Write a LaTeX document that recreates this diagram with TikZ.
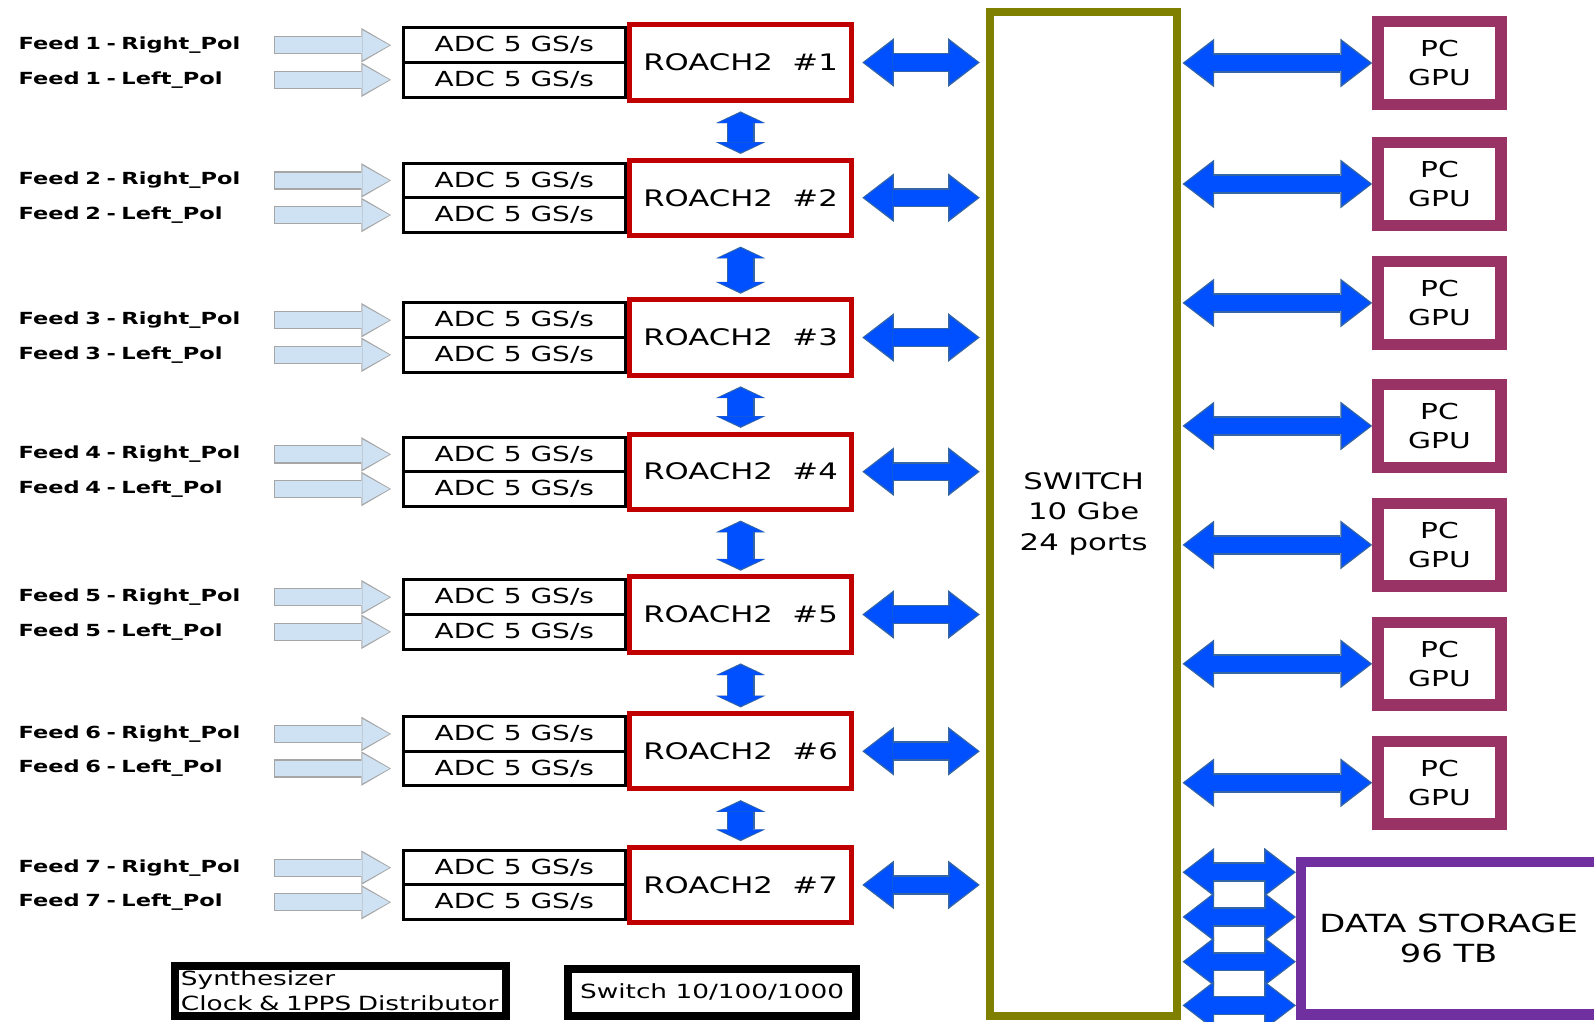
\documentclass[tikz,border=0pt]{standalone}
\usepackage{fontspec}
\setmainfont{DejaVu Sans}[FakeStretch=1.35]
\usepackage{xcolor}
\usepackage{tikz}
\usetikzlibrary{arrows.meta,positioning}
\definecolor{roachred}{HTML}{C00000}
\definecolor{switcholive}{HTML}{808000}
\definecolor{pcmauve}{HTML}{993366}
\definecolor{storepurple}{HTML}{7030A0}
\definecolor{linkblue}{HTML}{0050FF}
\definecolor{linkedge}{HTML}{3465A4}
\definecolor{feedfill}{HTML}{CFE2F3}
\definecolor{feededge}{HTML}{A6A6A6}
\tikzset{
  feedlab/.style   = {anchor=west, inner sep=0pt, text width=122pt, align=left,
                      font=\bfseries\fontsize{8.2}{10}\selectfont},
  adcbox/.style    = {draw, line width=1.5pt, minimum width=109.5pt, minimum height=17pt,
                      inner sep=0pt, font=\fontsize{10.2}{12}\selectfont},
  roachbox/.style  = {draw=roachred, line width=2.5pt, minimum width=109pt, minimum height=37pt,
                      inner sep=0pt, font=\fontsize{11.2}{13}\selectfont},
  switchbox/.style = {draw=switcholive, line width=4pt, minimum width=92pt, minimum height=493.5pt,
                      inner sep=0pt, align=center, font=\fontsize{11.2}{14.8}\selectfont},
  pcbox/.style     = {draw=pcmauve, line width=5.5pt, minimum width=60.5pt, minimum height=40.5pt,
                      inner sep=0pt, align=center, font=\fontsize{10.8}{14.5}\selectfont},
  storebox/.style  = {draw=storepurple, line width=5pt, minimum width=180pt, minimum height=75pt,
                      inner sep=0pt},
  storetext/.style = {align=center, inner sep=0pt, font=\fontsize{12.3}{15}\selectfont},
  auxbox/.style    = {draw, line width=4pt, inner sep=1pt, font=\fontsize{9.6}{12.5}\selectfont},
}
\tikzset{
  feedin/.style = {line width=7.8pt, feedfill, shorten <=4pt, shorten >=6pt,
                   -{Triangle[length=13.3pt,width=14.8pt,line width=0pt]},
                   preaction={draw=feededge, line width=9pt, shorten <=3.4pt, shorten >=5.2pt,
                              arrows=-{Triangle[length=14.6pt,width=17pt,line width=0pt]}}},
  link/.style 2 args = {line width=8pt, linkblue, shorten <=#1, shorten >=#2,
                   {Triangle[length=14pt,width=21pt,line width=0pt]}-{Triangle[length=14pt,width=21pt,line width=0pt]},
                   preaction={draw=linkedge, line width=9.6pt,
                              shorten <=#1-0.9pt, shorten >=#2-0.9pt,
                              arrows={Triangle[length=15.6pt,width=24pt,line width=0pt]}-{Triangle[length=15.6pt,width=24pt,line width=0pt]}}},
  vlink/.style  = {line width=12.5pt, linkblue, shorten <=5pt, shorten >=2.5pt,
                   {Triangle[length=5pt,width=22.5pt,line width=0pt]}-{Triangle[length=5pt,width=22.5pt,line width=0pt]},
                   preaction={draw=linkedge, line width=13.8pt, shorten <=4.3pt, shorten >=1.8pt,
                              arrows={Triangle[length=5.8pt,width=24.5pt,line width=0pt]}-{Triangle[length=5.8pt,width=24.5pt,line width=0pt]}}},
}

\begin{document}
\begin{tikzpicture}[x=0.5pt, y=-0.5pt]
\useasboundingbox (0,0) rectangle (1568,1005);
\clip (0,0) rectangle (1568,1005);

\node[switchbox] (sw) at (1066,505.5) {SWITCH\\10 Gbe\\24 ports};

% roach rows
\node[feedlab] (f1r) at (18,44.5) {Feed 1 - Right\_Pol};
\node[feedlab] (f1l) at (18,78.5) {Feed 1 - Left\_Pol};
\node[adcbox] (a1r) at (506,44.5) {ADC 5 GS/s};
\node[adcbox] (a1l) at (506,78.5) {ADC 5 GS/s};
\node[roachbox] (r1) at (728.5,61.5) {ROACH2\ \ \#1};

\node[feedlab] (f2r) at (18,177.5) {Feed 2 - Right\_Pol};
\node[feedlab] (f2l) at (18,211.5) {Feed 2 - Left\_Pol};
\node[adcbox] (a2r) at (506,177.5) {ADC 5 GS/s};
\node[adcbox] (a2l) at (506,211.5) {ADC 5 GS/s};
\node[roachbox] (r2) at (728.5,194.5) {ROACH2\ \ \#2};

\node[feedlab] (f3r) at (18,315) {Feed 3 - Right\_Pol};
\node[feedlab] (f3l) at (18,349) {Feed 3 - Left\_Pol};
\node[adcbox] (a3r) at (506,315) {ADC 5 GS/s};
\node[adcbox] (a3l) at (506,349) {ADC 5 GS/s};
\node[roachbox] (r3) at (728.5,332) {ROACH2\ \ \#3};

\node[feedlab] (f4r) at (18,447) {Feed 4 - Right\_Pol};
\node[feedlab] (f4l) at (18,481) {Feed 4 - Left\_Pol};
\node[adcbox] (a4r) at (506,447) {ADC 5 GS/s};
\node[adcbox] (a4l) at (506,481) {ADC 5 GS/s};
\node[roachbox] (r4) at (728.5,464) {ROACH2\ \ \#4};

\node[feedlab] (f5r) at (18,587.5) {Feed 5 - Right\_Pol};
\node[feedlab] (f5l) at (18,621.5) {Feed 5 - Left\_Pol};
\node[adcbox] (a5r) at (506,587.5) {ADC 5 GS/s};
\node[adcbox] (a5l) at (506,621.5) {ADC 5 GS/s};
\node[roachbox] (r5) at (728.5,604.5) {ROACH2\ \ \#5};

\node[feedlab] (f6r) at (18,722) {Feed 6 - Right\_Pol};
\node[feedlab] (f6l) at (18,756) {Feed 6 - Left\_Pol};
\node[adcbox] (a6r) at (506,722) {ADC 5 GS/s};
\node[adcbox] (a6l) at (506,756) {ADC 5 GS/s};
\node[roachbox] (r6) at (728.5,739) {ROACH2\ \ \#6};

\node[feedlab] (f7r) at (18,853.5) {Feed 7 - Right\_Pol};
\node[feedlab] (f7l) at (18,887.5) {Feed 7 - Left\_Pol};
\node[adcbox] (a7r) at (506,853.5) {ADC 5 GS/s};
\node[adcbox] (a7l) at (506,887.5) {ADC 5 GS/s};
\node[roachbox] (r7) at (728.5,870.5) {ROACH2\ \ \#7};

% pcs and storage
\node[pcbox] (pc1) at (1416,62) {PC\\GPU};
\node[pcbox] (pc2) at (1416,181) {PC\\GPU};
\node[pcbox] (pc3) at (1416,298) {PC\\GPU};
\node[pcbox] (pc4) at (1416,419) {PC\\GPU};
\node[pcbox] (pc5) at (1416,536) {PC\\GPU};
\node[pcbox] (pc6) at (1416,653) {PC\\GPU};
\node[pcbox] (pc7) at (1416,770) {PC\\GPU};
\node[storebox, label={[storetext, xshift=-17.5pt]center:DATA STORAGE\\96 TB}] (st) at (1460,923) {};
\coordinate (s1) at ([yshift=32.5pt]st.west);
\coordinate (s2) at ([yshift=10.5pt]st.west);
\coordinate (s3) at ([yshift=-11.5pt]st.west);
\coordinate (s4) at ([yshift=-33pt]st.west);

\node[auxbox, minimum width=163pt, minimum height=24.5pt, text width=157pt, align=left] (syn) at (335,974.5) {Synthesizer\\Clock \& 1PPS Distributor};
\node[auxbox, minimum width=141.5pt, minimum height=23pt] (lan) at (700.5,976) {Switch 10/100/1000};

% feeds into adcs
\draw[feedin] (f1r) to (a1r);
\draw[feedin] (f1l) to (a1l);
\draw[feedin] (f2r) to (a2r);
\draw[feedin] (f2l) to (a2l);
\draw[feedin] (f3r) to (a3r);
\draw[feedin] (f3l) to (a3l);
\draw[feedin] (f4r) to (a4r);
\draw[feedin] (f4l) to (a4l);
\draw[feedin] (f5r) to (a5r);
\draw[feedin] (f5l) to (a5l);
\draw[feedin] (f6r) to (a6r);
\draw[feedin] (f6l) to (a6l);
\draw[feedin] (f7r) to (a7r);
\draw[feedin] (f7l) to (a7l);

% roach to roach
\draw[vlink] (r1) to (r2);
\draw[vlink] (r2) to (r3);
\draw[vlink] (r3) to (r4);
\draw[vlink] (r4) to (r5);
\draw[vlink] (r5) to (r6);
\draw[vlink] (r6) to (r7);

% roach to switch
\draw[link={5pt}{4pt}] (r1) to (r1 -| sw.west);
\draw[link={5pt}{4pt}] (r2) to (r2 -| sw.west);
\draw[link={5pt}{4pt}] (r3) to (r3 -| sw.west);
\draw[link={5pt}{4pt}] (r4) to (r4 -| sw.west);
\draw[link={5pt}{4pt}] (r5) to (r5 -| sw.west);
\draw[link={5pt}{4pt}] (r6) to (r6 -| sw.west);
\draw[link={5pt}{4pt}] (r7) to (r7 -| sw.west);

% switch to pcs and storage
\draw[link={1.5pt}{1pt}] (pc1 -| sw.east) to (pc1);
\draw[link={1.5pt}{1pt}] (pc2 -| sw.east) to (pc2);
\draw[link={1.5pt}{1pt}] (pc3 -| sw.east) to (pc3);
\draw[link={1.5pt}{1pt}] (pc4 -| sw.east) to (pc4);
\draw[link={1.5pt}{1pt}] (pc5 -| sw.east) to (pc5);
\draw[link={1.5pt}{1pt}] (pc6 -| sw.east) to (pc6);
\draw[link={1.5pt}{1pt}] (pc7 -| sw.east) to (pc7);
\draw[link={1.5pt}{1pt}] (s1 -| sw.east) to (s1);
\draw[link={1.5pt}{1pt}] (s2 -| sw.east) to (s2);
\draw[link={1.5pt}{1pt}] (s3 -| sw.east) to (s3);
\draw[link={1.5pt}{1pt}] (s4 -| sw.east) to (s4);
\end{tikzpicture}
\end{document}
